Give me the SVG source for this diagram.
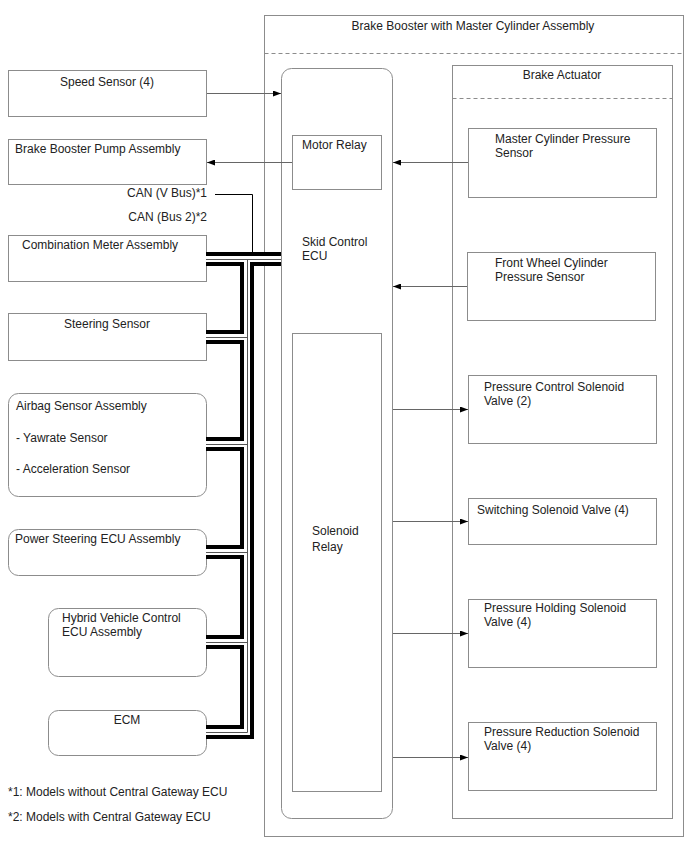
<svg xmlns="http://www.w3.org/2000/svg" width="688" height="852" viewBox="0 0 688 852">
<style>
text{font-family:"Liberation Sans",Arial,sans-serif;font-size:12px;fill:#222}
.c{text-anchor:middle}
.e{text-anchor:end}
.box{fill:#fff;stroke:#8c8c8c;stroke-width:1}
.dash{stroke:#8c8c8c;stroke-width:1;stroke-dasharray:4 3;fill:none}
.conn{stroke:#666;stroke-width:1;fill:none}
.busK{stroke:#000;stroke-width:14;fill:none}
.busW{stroke:#fff;stroke-width:6;fill:none}
.busT{stroke:#555;stroke-width:1;fill:none}
</style>
<defs>
<marker id="ah" markerWidth="8" markerHeight="6" refX="8" refY="3" orient="auto" markerUnits="userSpaceOnUse">
<path d="M0,0 L8,3 L0,6 Z" fill="#000"/>
</marker>
</defs>
<rect width="688" height="852" fill="#fff"/>

<g id="brake-booster">
<rect class="box" x="264.5" y="15.5" width="419" height="821"/>
<line class="dash" x1="264.5" y1="53.5" x2="683.5" y2="53.5"/>
<text class="c" x="473" y="30">Brake Booster with Master Cylinder Assembly</text>
</g>

<g id="skid-control-ecu">
<rect class="box" x="281.5" y="68.5" width="111" height="750" rx="10"/>
<text x="302" y="246">Skid Control</text>
<text x="302" y="260">ECU</text>
</g>

<g id="brake-actuator">
<rect class="box" x="452.5" y="65.5" width="220" height="753"/>
<line class="dash" x1="452.5" y1="98.5" x2="672.5" y2="98.5"/>
<text class="c" x="562" y="79">Brake Actuator</text>
</g>

<g id="motor-relay">
<rect class="box" x="292.5" y="135.5" width="89" height="54"/>
<text x="302" y="149">Motor Relay</text>
</g>

<g id="solenoid-relay">
<rect class="box" x="292.5" y="333.5" width="89" height="458"/>
<text x="312" y="535">Solenoid</text>
<text x="312" y="551">Relay</text>
</g>

<g id="master-cyl-sensor">
<rect class="box" x="468.5" y="128.5" width="188" height="69"/>
<text x="495" y="143">Master Cylinder Pressure</text>
<text x="495" y="157">Sensor</text>
</g>

<g id="front-wheel-sensor">
<rect class="box" x="467.5" y="252.5" width="188" height="68"/>
<text x="495" y="267">Front Wheel Cylinder</text>
<text x="495" y="281">Pressure Sensor</text>
</g>

<g id="pressure-control-valve">
<rect class="box" x="468.5" y="375.5" width="188" height="68"/>
<text x="484" y="391">Pressure Control Solenoid</text>
<text x="484" y="405">Valve (2)</text>
</g>

<g id="switching-valve">
<rect class="box" x="468.5" y="498.5" width="188" height="46"/>
<text x="477" y="514">Switching Solenoid Valve (4)</text>
</g>

<g id="pressure-holding-valve">
<rect class="box" x="468.5" y="599.5" width="188" height="68"/>
<text x="484" y="612">Pressure Holding Solenoid</text>
<text x="484" y="626">Valve (4)</text>
</g>

<g id="pressure-reduction-valve">
<rect class="box" x="468.5" y="722.5" width="188" height="68"/>
<text x="484" y="736">Pressure Reduction Solenoid</text>
<text x="484" y="750">Valve (4)</text>
</g>

<g id="speed-sensor">
<rect class="box" x="8.5" y="70.5" width="198" height="46"/>
<text class="c" x="107" y="86">Speed Sensor (4)</text>
</g>

<g id="brake-booster-pump">
<rect class="box" x="8.5" y="139.5" width="198" height="45"/>
<text x="15" y="153">Brake Booster Pump Assembly</text>
</g>

<g id="combination-meter">
<rect class="box" x="8.5" y="235.5" width="198" height="46"/>
<text x="22" y="249">Combination Meter Assembly</text>
</g>

<g id="steering-sensor">
<rect class="box" x="8.5" y="313.5" width="198" height="47"/>
<text class="c" x="107" y="328">Steering Sensor</text>
</g>

<g id="airbag-sensor">
<rect class="box" x="8.5" y="393.5" width="198" height="103" rx="10"/>
<text x="16" y="410">Airbag Sensor Assembly</text>
<text x="16" y="442">- Yawrate Sensor</text>
<text x="16" y="473">- Acceleration Sensor</text>
</g>

<g id="power-steering-ecu">
<rect class="box" x="8.5" y="529.5" width="198" height="46" rx="10"/>
<text x="15" y="543">Power Steering ECU Assembly</text>
</g>

<g id="hybrid-ecu">
<rect class="box" x="48.5" y="608.5" width="158" height="68" rx="10"/>
<text x="62" y="622">Hybrid Vehicle Control</text>
<text x="62" y="636">ECU Assembly</text>
</g>

<g id="ecm">
<rect class="box" x="48.5" y="710.5" width="158" height="45" rx="10"/>
<text class="c" x="127" y="724">ECM</text>
</g>

<g id="connectors">
<line class="conn" x1="207" y1="93.5" x2="281" y2="93.5" marker-end="url(#ah)"/>
<line class="conn" x1="292" y1="162.5" x2="207" y2="162.5" marker-end="url(#ah)"/>
<line class="conn" x1="468" y1="162.5" x2="393" y2="162.5" marker-end="url(#ah)"/>
<line class="conn" x1="467" y1="286.5" x2="393" y2="286.5" marker-end="url(#ah)"/>
<line class="conn" x1="393" y1="409.5" x2="468" y2="409.5" marker-end="url(#ah)"/>
<line class="conn" x1="393" y1="521.5" x2="468" y2="521.5" marker-end="url(#ah)"/>
<line class="conn" x1="393" y1="633.5" x2="468" y2="633.5" marker-end="url(#ah)"/>
<line class="conn" x1="393" y1="757.5" x2="468" y2="757.5" marker-end="url(#ah)"/>

<g id="can-bus">
<g class="busK">
<path d="M206 259 H281"/>
<path d="M247 259 V732 H206"/>
<path d="M206 337 H247"/>
<path d="M206 444 H247"/>
<path d="M206 552 H247"/>
<path d="M206 642 H247"/>
</g>
<g class="busW">
<path d="M206 259 H281"/>
<path d="M247 259 V732 H206"/>
<path d="M206 337 H247"/>
<path d="M206 444 H247"/>
<path d="M206 552 H247"/>
<path d="M206 642 H247"/>
</g>
<g class="busT">
<path d="M206 259.5 H281"/>
<path d="M247.5 259.5 V732.5 H206"/>
<path d="M206 337.5 H247.5"/>
<path d="M206 444.5 H247.5"/>
<path d="M206 552.5 H247.5"/>
<path d="M206 642.5 H247.5"/>
</g>
</g>
<path d="M215 194.5 H252.5 V252" stroke="#000" stroke-width="1" fill="none"/>
</g>

<text class="e" x="207" y="197">CAN (V Bus)*1</text>
<text class="e" x="207" y="221">CAN (Bus 2)*2</text>
<text x="8" y="796">*1: Models without Central Gateway ECU</text>
<text x="8" y="821">*2: Models with Central Gateway ECU</text>
</svg>
